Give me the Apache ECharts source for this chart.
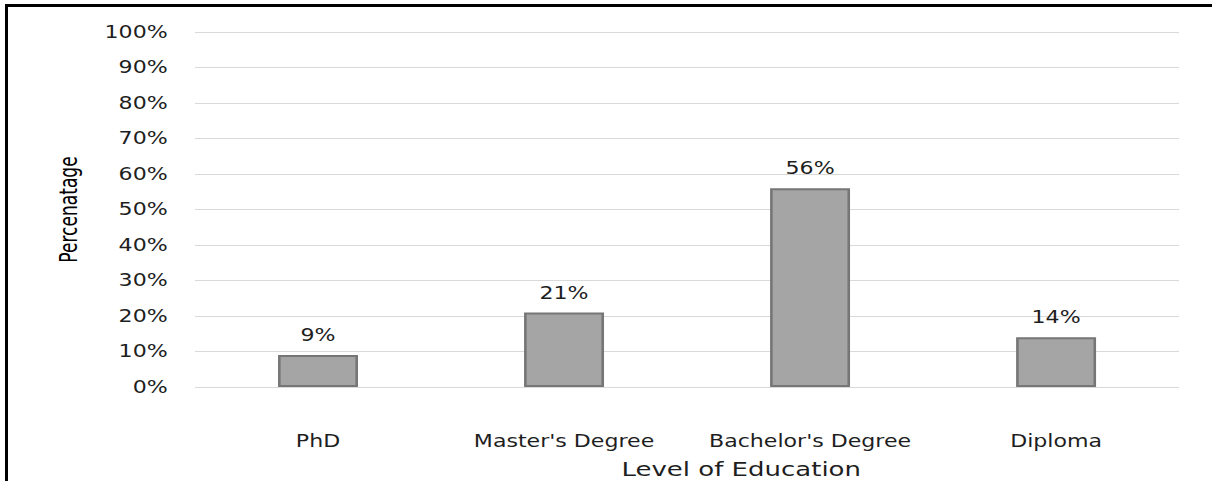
<!DOCTYPE html>
<html>
<head>
<meta charset="utf-8">
<script src="https://cdn.jsdelivr.net/npm/echarts@6/dist/echarts.min.js"></script>
<style>
  html, body { margin: 0; padding: 0; background: #fff; overflow: hidden; }
  /* the chart is laid out narrower and widened horizontally */
  #chart { position: absolute; left: 0; top: 0; width: 932px; height: 481px;
           transform: scaleX(1.3); transform-origin: 0 0; }
  #frame { position: absolute; left: 5px; top: 4px; width: 1300px; height: 600px;
           border-left: 3px solid #000; border-top: 3px solid #000; pointer-events: none; }
</style>
</head>
<body>
<div id="chart"></div>
<div id="frame"></div>
<script>
// Share of respondents by highest level of education
const categories = ["PhD", "Master's Degree", "Bachelor's Degree", "Diploma"];
const percentages = [9, 21, 56, 14];
const yTicks = [0, 10, 20, 30, 40, 50, 60, 70, 80, 90, 100];

const chart = echarts.init(document.getElementById('chart'), null, { renderer: 'svg' });

const textFont = 'DejaVu Sans';
const textColor = '#1e1e1e';

chart.setOption({
  animation: false,
  backgroundColor: '#ffffff',
  grid: { left: 150, right: 25, top: 32, bottom: 94, containLabel: false },
  xAxis: {
    type: 'category',
    data: categories,
    axisLine: { show: false },
    axisTick: { show: false },
    axisLabel: { interval: 0, color: textColor, fontFamily: textFont, fontSize: 17, margin: 46 }
  },
  yAxis: {
    type: 'value',
    min: yTicks[0],
    max: yTicks[yTicks.length - 1],
    interval: yTicks[1] - yTicks[0],
    name: 'Percenatage',
    nameLocation: 'middle',
    nameRotate: 90,
    nameGap: 88,
    nameTextStyle: { color: '#000', fontFamily: 'DejaVu Sans Condensed', fontSize: 19 },
    axisLine: { show: false },
    axisTick: { show: false },
    splitLine: { lineStyle: { color: '#d9d9d9', width: 1 } },
    axisLabel: {
      color: textColor, fontFamily: textFont, fontSize: 17, margin: 21,
      formatter: v => v + '%'
    }
  },
  graphic: [{
    type: 'text',
    left: 478,
    top: 459,
    style: { text: 'Level of Education', fill: textColor, font: '20px "DejaVu Sans"' }
  }],
  series: [{
    type: 'bar',
    data: percentages,
    barWidth: '32.5%',
    itemStyle: { color: '#a5a5a5', borderColor: '#767676', borderWidth: 2 },
    label: {
      show: true,
      position: 'top',
      distance: 11,
      color: textColor,
      fontFamily: textFont,
      fontSize: 17,
      formatter: p => p.value + '%'
    }
  }]
});
</script>
</body>
</html>
